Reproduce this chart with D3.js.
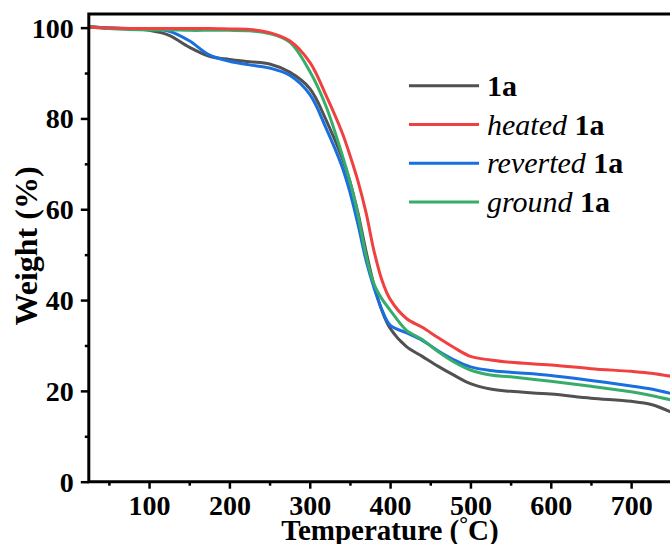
<!DOCTYPE html>
<html>
<head>
<meta charset="utf-8">
<script src="https://cdn.jsdelivr.net/npm/d3@7"></script>
<style>
  html, body { margin: 0; padding: 0; background: #fff; }
  svg { display: block; }
  text { font-family: "Liberation Serif", Tinos, Times, "Times New Roman", serif; fill: #000; }
</style>
</head>
<body>
<svg id="chart" width="670" height="544"></svg>
<script>
// TGA traces: weight retained (%) against temperature (°C)
const temperature = [25, 50, 75, 100, 125, 150, 175, 200, 225, 250, 275, 300, 320, 340, 350, 360, 370, 380, 390, 400, 420, 440, 460, 480, 500, 525, 550, 600, 650, 700, 725, 750];

const pristine  = [100.2, 99.9, 99.8, 99.4, 98.3, 95.7, 93.7, 93.0, 92.5, 92.0, 90.2, 86.6, 79.8, 71.4, 66.1, 59.2, 50.8, 43.3, 37.6, 33.8, 29.8, 27.6, 25.4, 23.4, 21.6, 20.4, 19.9, 19.3, 18.4, 17.7, 17.0, 15.3];
const heated    = [100.1, 99.9, 99.8, 99.8, 99.8, 99.8, 99.8, 99.7, 99.6, 98.9, 97.1, 92.4, 85.2, 77.0, 71.9, 66.2, 59.3, 50.8, 44.3, 40.2, 36.0, 34.0, 31.7, 29.5, 27.6, 26.8, 26.3, 25.7, 24.9, 24.3, 23.9, 23.2];
const reverted  = [100.3, 99.9, 99.8, 99.7, 99.2, 97.1, 94.0, 92.6, 91.8, 91.1, 89.5, 85.3, 78.0, 69.5, 63.8, 56.7, 48.8, 42.7, 37.8, 34.5, 32.8, 31.1, 28.8, 26.8, 25.3, 24.5, 24.1, 23.4, 22.3, 21.1, 20.4, 19.4];
const ground    = [100.2, 99.8, 99.6, 99.5, 99.5, 99.4, 99.4, 99.4, 99.3, 98.7, 96.8, 90.4, 82.8, 72.2, 66.2, 58.8, 49.9, 43.5, 40.2, 37.8, 33.4, 31.3, 28.6, 26.3, 24.6, 23.5, 23.1, 22.1, 21.0, 19.8, 19.0, 18.0];

const xTicks = [100, 200, 300, 400, 500, 600, 700];
const xMinorTicks = [50, 150, 250, 350, 450, 550, 650, 750];
const yTicks = [0, 20, 40, 60, 80, 100];
const yMinorTicks = [10, 30, 50, 70, 90];

const series = [
  { key: "1a",       prefix: "",          values: pristine, color: "#515151" },
  { key: "heated",   prefix: "heated ",   values: heated,   color: "#F14040" },
  { key: "reverted", prefix: "reverted ", values: reverted, color: "#1A6FDF" },
  { key: "ground",   prefix: "ground ",   values: ground,   color: "#37AD6B" }
];
// painting order: later traces sit on top
const drawOrder = ["1a", "reverted", "ground", "heated"];

const svg = d3.select("#chart");
const plotLeft = 88.8, plotRight = 671.3, plotTop = 14, plotBottom = 481.7;

const x = d3.scaleLinear().domain([25, 750]).range([plotLeft, plotRight]);
const y = d3.scaleLinear().domain([0, 103]).range([plotBottom, plotTop]);

svg.append("defs").append("clipPath").attr("id", "plot-clip")
  .append("rect").attr("x", plotLeft).attr("y", plotTop)
  .attr("width", plotRight - plotLeft).attr("height", plotBottom - plotTop);

// traces
const line = d3.line()
  .x((d, i) => x(temperature[i]))
  .y(d => y(d))
  .curve(d3.curveCatmullRom.alpha(0.5));

const traces = svg.append("g").attr("clip-path", "url(#plot-clip)");
drawOrder.forEach(k => {
  const s = series.find(d => d.key === k);
  traces.append("path")
    .attr("d", line(s.values))
    .attr("fill", "none")
    .attr("stroke", s.color)
    .attr("stroke-width", 3)
    .attr("stroke-linejoin", "round");
});

// axes
const axisFont = 28;
const xAxis = svg.append("g").attr("transform", `translate(0,${plotBottom})`)
  .call(d3.axisBottom(x).tickValues(xTicks).tickSize(7).tickPadding(3).tickFormat(d3.format("d")));
const xMinor = svg.append("g").attr("transform", `translate(0,${plotBottom})`)
  .call(d3.axisBottom(x).tickValues(xMinorTicks).tickSize(4).tickFormat(""));
const yAxis = svg.append("g").attr("transform", `translate(${plotLeft},0)`)
  .call(d3.axisLeft(y).tickValues(yTicks).tickSize(8).tickPadding(7).tickFormat(d3.format("d")));
const yMinor = svg.append("g").attr("transform", `translate(${plotLeft},0)`)
  .call(d3.axisLeft(y).tickValues(yMinorTicks).tickSize(4).tickFormat(""));

[xAxis, xMinor, yAxis, yMinor].forEach(g => {
  g.select(".domain").remove();
  g.selectAll(".tick line").attr("stroke", "#000").attr("stroke-width", 2.5);
  g.selectAll(".tick text")
    .attr("font-weight", "bold")
    .attr("font-size", axisFont)
    .attr("fill", "#000");
});
xAxis.selectAll(".tick text").attr("dy", "0.82em");
yAxis.selectAll(".tick text").attr("dy", "0.34em");

// frame: left, bottom and top spines
svg.append("path")
  .attr("d", `M${plotRight + 5},${plotTop} H${plotLeft} V${plotBottom} H${plotRight + 5}`)
  .attr("fill", "none")
  .attr("stroke", "#000")
  .attr("stroke-width", 3)
  .attr("stroke-linecap", "square");

// axis titles
const xTitle = svg.append("text")
  .attr("x", 390)
  .attr("y", 540)
  .attr("text-anchor", "middle")
  .attr("font-weight", "bold")
  .attr("font-size", 29);
xTitle.append("tspan").text("Temperature (");
xTitle.append("tspan").attr("font-size", 22).attr("dy", -9).text("°");
xTitle.append("tspan").attr("dy", 9).text("C)");

svg.append("text")
  .attr("transform", `translate(37,246) rotate(-90)`)
  .attr("text-anchor", "middle")
  .attr("font-weight", "bold")
  .attr("font-size", 32)
  .text("Weight (%)");

// legend
const legend = svg.append("g");
const rowY = [85.7, 124.5, 163.3, 202.1];
series.forEach((s, i) => {
  legend.append("line")
    .attr("x1", 409).attr("x2", 479)
    .attr("y1", rowY[i]).attr("y2", rowY[i])
    .attr("stroke", s.color).attr("stroke-width", 3);
  const t = legend.append("text")
    .attr("x", 487).attr("y", rowY[i] + 10)
    .attr("font-size", 30);
  if (s.prefix) t.append("tspan").attr("font-style", "italic").text(s.prefix);
  t.append("tspan").attr("font-weight", "bold").text("1a");
});
</script>
</body>
</html>
